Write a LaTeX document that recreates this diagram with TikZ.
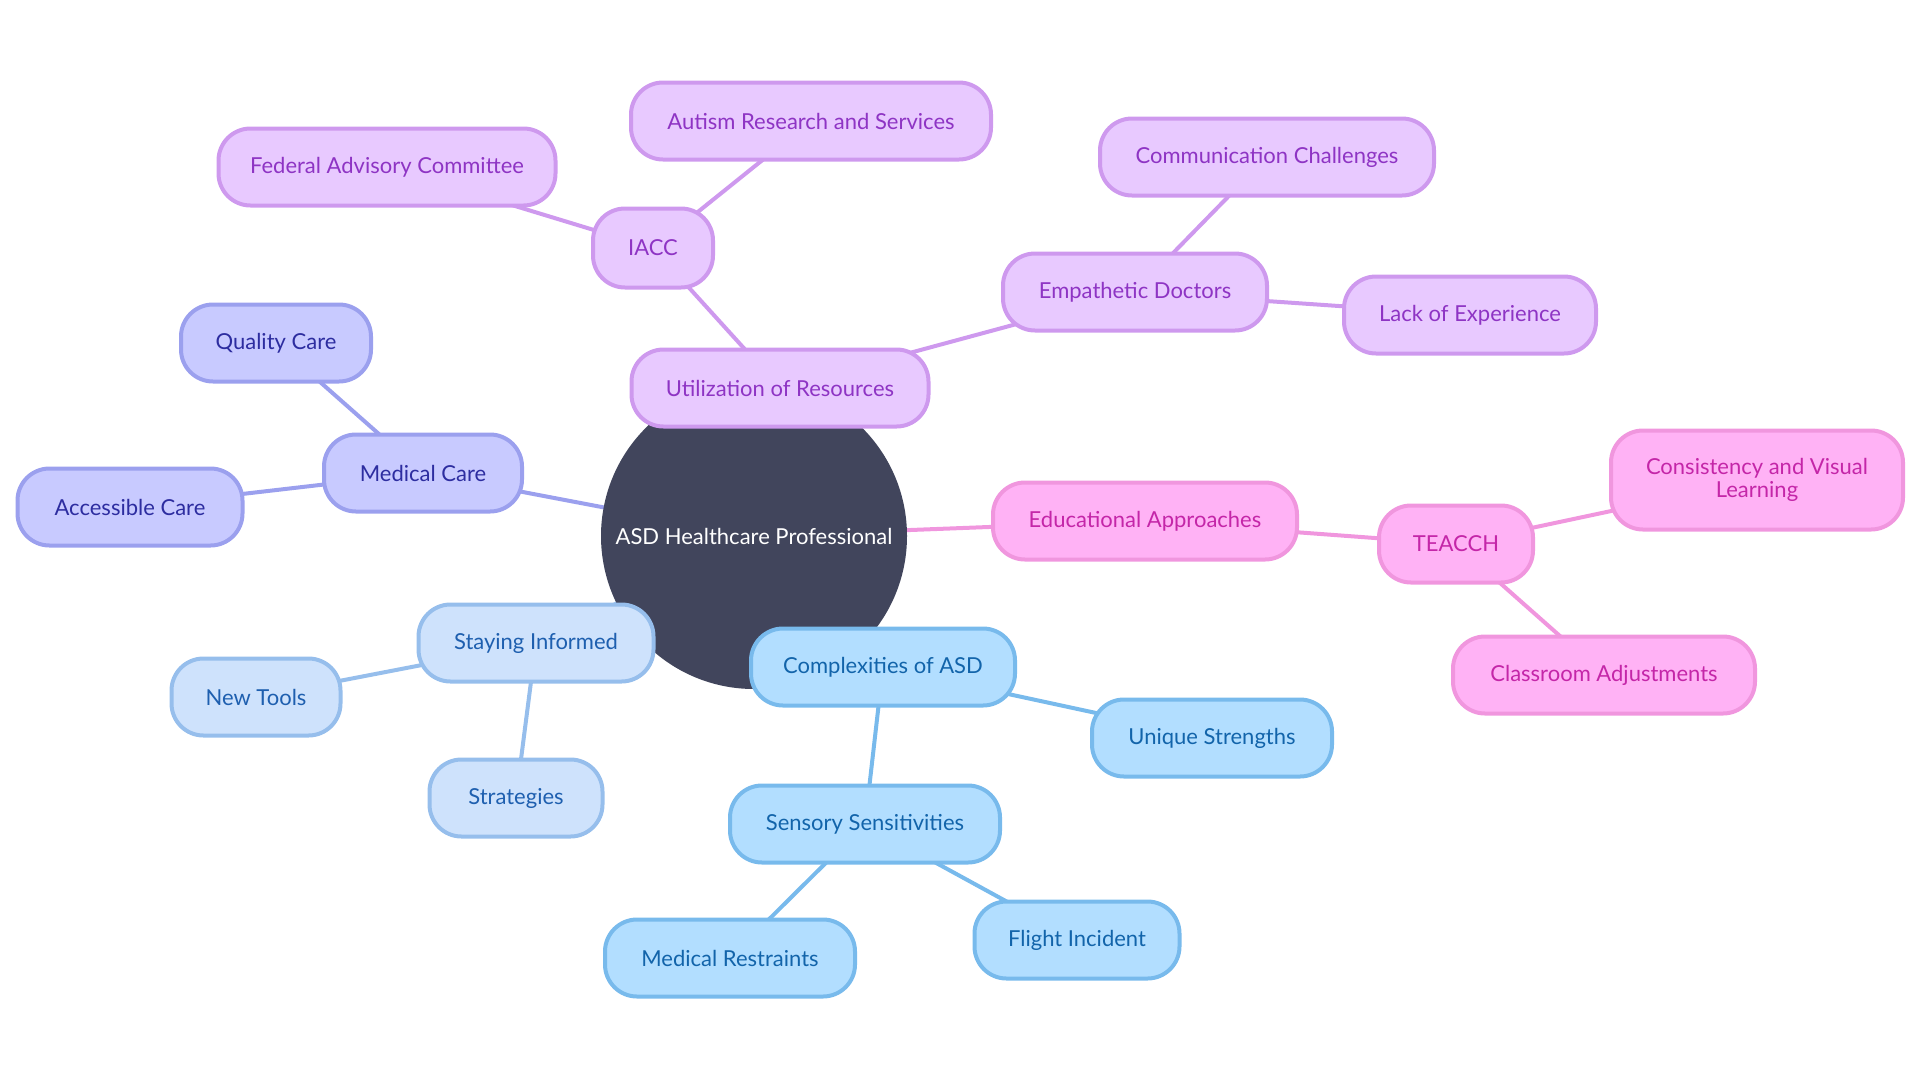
\documentclass[tikz,border=0pt]{standalone}
\usepackage{fontspec}
\setmainfont{Lato}
\usetikzlibrary{backgrounds}

\definecolor{rootfill}{RGB}{65,69,92}
\definecolor{purpfill}{RGB}{232,201,255}
\definecolor{purpline}{RGB}{206,153,238}
\definecolor{purptext}{RGB}{142,52,196}
\definecolor{indfill}{RGB}{200,202,255}
\definecolor{indline}{RGB}{155,160,238}
\definecolor{indtext}{RGB}{45,45,160}
\definecolor{pinkfill}{RGB}{255,178,245}
\definecolor{pinkline}{RGB}{240,150,222}
\definecolor{pinktext}{RGB}{196,38,168}
\definecolor{paleblfill}{RGB}{206,226,252}
\definecolor{paleblline}{RGB}{150,190,236}
\definecolor{pablbltext}{RGB}{30,95,175}
\definecolor{skyfill}{RGB}{178,222,255}
\definecolor{skyline}{RGB}{120,186,236}
\definecolor{skytext}{RGB}{18,100,170}

\tikzset{
  every picture/.style={line width=4pt},
  topic/.style={rectangle, rounded corners=32pt, draw, line width=4pt,
    minimum height=77pt, inner sep=2pt, align=center,
    font=\fontsize{22}{24}\selectfont},
  purpbox/.style={topic, fill=purpfill, draw=purpline, text=purptext},
  indbox/.style={topic, fill=indfill, draw=indline, text=indtext},
  pinkbox/.style={topic, fill=pinkfill, draw=pinkline, text=pinktext},
  palebox/.style={topic, fill=paleblfill, draw=paleblline, text=pablbltext},
  skybox/.style={topic, fill=skyfill, draw=skyline, text=skytext},
  purplink/.style={draw=purpline, line width=4pt},
  indlink/.style={draw=indline, line width=4pt},
  pinklink/.style={draw=pinkline, line width=4pt},
  palelink/.style={draw=paleblline, line width=4pt},
  skylink/.style={draw=skyline, line width=4pt},
}

\begin{document}
\begin{tikzpicture}[x=1pt,y=1pt,yscale=-1]
\useasboundingbox (0,0) rectangle (1920,1080);

% Centre
\node (root) [circle, fill=rootfill, text=white, minimum size=306pt, inner sep=0pt,
  font=\fontsize{22}{24}\selectfont] at (754,536) {ASD Healthcare Professional};

% Utilization branch
\node (util) [purpbox, minimum width=297pt] at (780,388) {Utilization of Resources};
\node (iacc) [purpbox, minimum width=120pt, minimum height=79pt] at (653,248) {IACC};
\node (fed) [purpbox, minimum width=337pt] at (387,167) {Federal Advisory Committee};
\node (autres) [purpbox, minimum width=360pt] at (811,121) {Autism Research and Services};
\node (empath) [purpbox, minimum width=264pt] at (1135,292) {Empathetic Doctors};
\node (commun) [purpbox, minimum width=334pt] at (1267,157) {Communication Challenges};
\node (lackexp) [purpbox, minimum width=252pt] at (1470,315) {Lack of Experience};

% Medical branch
\node (medcare) [indbox, minimum width=198pt] at (423,473) {Medical Care};
\node (quality) [indbox, minimum width=190pt] at (276,343) {Quality Care};
\node (access) [indbox, minimum width=225pt] at (130,507) {Accessible Care};

% Education branch
\node (edu) [pinkbox, minimum width=304pt] at (1145,521) {Educational Approaches};
\node (teacch) [pinkbox, minimum width=154pt] at (1456,544) {TEACCH};
\node (consist) [pinkbox, minimum width=292pt, minimum height=99pt] at (1757,480) {Consistency and Visual\\[-1pt]Learning};
\node (classrm) [pinkbox, minimum width=302pt] at (1604,675) {Classroom Adjustments};

% Informed branch
\node (inform) [palebox, minimum width=235pt] at (536,643) {Staying Informed};
\node (newtool) [palebox, minimum width=169pt] at (256,697) {New Tools};
\node (strat) [palebox, minimum width=173pt] at (516,798) {Strategies};

% Complexities branch
\node (complex) [skybox, minimum width=264pt] at (883,667) {Complexities of ASD};
\node (unique) [skybox, minimum width=240pt] at (1212,738) {Unique Strengths};
\node (sensory) [skybox, minimum width=270pt] at (865,824) {Sensory Sensitivities};
\node (restr) [skybox, minimum width=250pt] at (730,958) {Medical Restraints};
\node (flight) [skybox, minimum width=205pt] at (1077,940) {Flight Incident};

% Connectors
\begin{scope}[on background layer]
\draw [purplink] (root.center) -- (util.center);
\draw [purplink] (util.center) -- (iacc.center);
\draw [purplink] (iacc.center) -- (fed.center);
\draw [purplink] (iacc.center) -- (autres.center);
\draw [purplink] (util.center) -- (empath.center);
\draw [purplink] (empath.center) -- (commun.center);
\draw [purplink] (empath.center) -- (lackexp.center);
\draw [indlink] (root.center) -- (medcare.center);
\draw [indlink] (medcare.center) -- (quality.center);
\draw [indlink] (medcare.center) -- (access.center);
\draw [pinklink] (root.center) -- (edu.center);
\draw [pinklink] (edu.center) -- (teacch.center);
\draw [pinklink] (teacch.center) -- (consist.center);
\draw [pinklink] (teacch.center) -- (classrm.center);
\draw [palelink] (root.center) -- (inform.center);
\draw [palelink] (inform.center) -- (newtool.center);
\draw [palelink] (inform.center) -- (strat.center);
\draw [skylink] (root.center) -- (complex.center);
\draw [skylink] (complex.center) -- (unique.center);
\draw [skylink] (complex.center) -- (sensory.center);
\draw [skylink] (sensory.center) -- (restr.center);
\draw [skylink] (sensory.center) -- (flight.center);
\end{scope}

\end{tikzpicture}
\end{document}
